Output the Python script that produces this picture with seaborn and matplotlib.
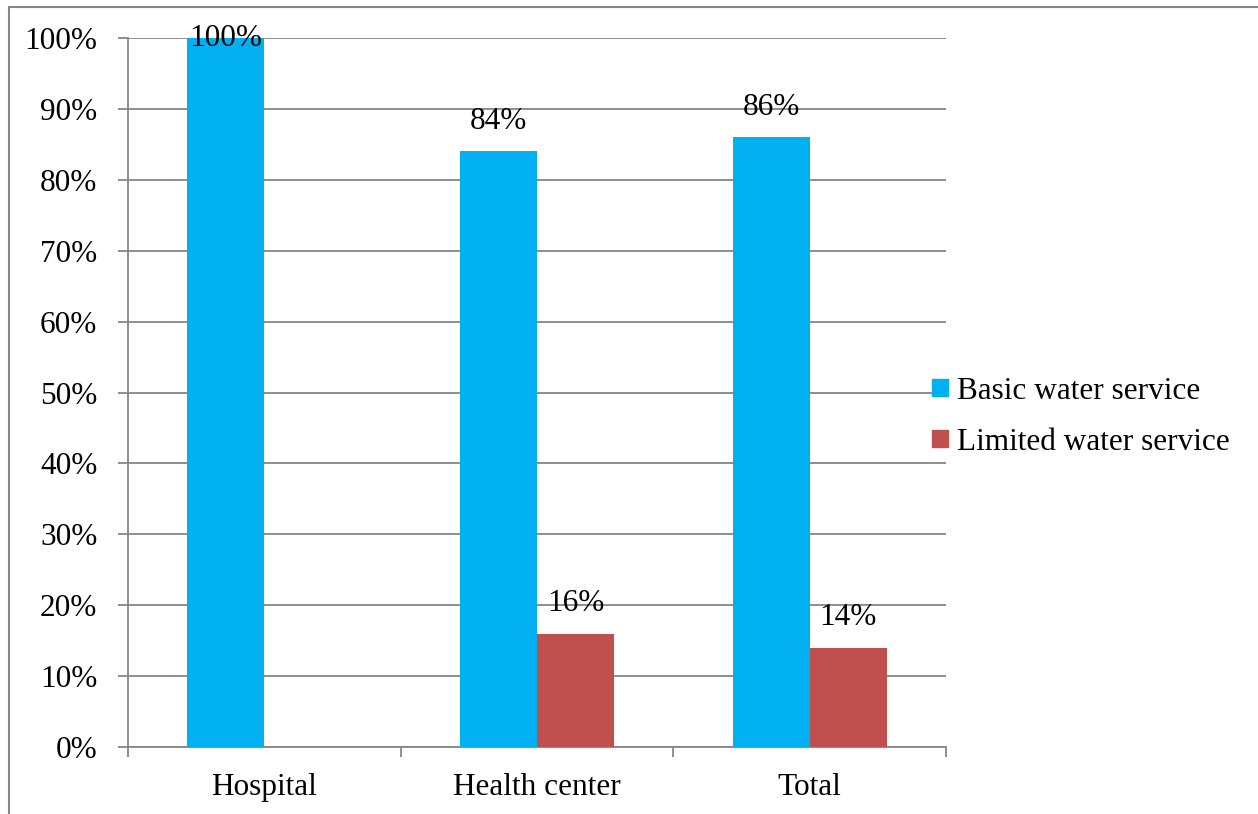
import matplotlib
matplotlib.use("Agg")
import matplotlib.pyplot as plt
from matplotlib.lines import Line2D
from matplotlib.ticker import FixedLocator
import numpy as np
import pandas as pd
import seaborn as sns

categories = ["Hospital", "Health center", "Total"]
basic = [100, 84, 86]
limited = [0, 16, 14]
series = ["Basic water service", "Limited water service"]
colors = ["#00B0F0", "#C0504D"]
yticks = [0, 10, 20, 30, 40, 50, 60, 70, 80, 90, 100]

df = pd.DataFrame({
    "category": categories * 2,
    "value": basic + limited,
    "series": [series[0]] * 3 + [series[1]] * 3,
})

sns.set_theme(style="white")
plt.rcParams["font.family"] = ["Liberation Serif", "DejaVu Serif"]
plt.rcParams["text.color"] = "black"
grey = "#868686"

fig = plt.figure(figsize=(12.58, 8.14), dpi=100)
ax = fig.add_axes([0.1017, 0.0823, 0.6503, 0.871])

sns.barplot(data=df, x="category", y="value", hue="series", order=categories,
            hue_order=series, palette=colors, width=0.565, saturation=1,
            edgecolor="none", linewidth=0, ax=ax, zorder=3)

ax.set_xlim(-0.5, 2.5)
ax.set_ylim(0, 100)
ax.set_yticks(yticks)
ax.set_yticklabels([f"{t}%" for t in yticks], fontsize=22.5, color="black")
ax.tick_params(axis="x", labelsize=22.5, colors="black", length=0, pad=19)
ax.tick_params(axis="y", length=7, width=1.3, color=grey, pad=15, left=True)
ax.xaxis.set_minor_locator(FixedLocator([-0.5, 0.5, 1.5, 2.5]))
ax.tick_params(axis="x", which="minor", length=7, width=1.3, color=grey, bottom=True)
ax.set_xlabel("")
ax.set_ylabel("")
ax.grid(axis="y", color=grey, linewidth=1.3, zorder=0)
ax.set_axisbelow(True)
for side in ["top", "right"]:
    ax.spines[side].set_visible(False)
for side in ["left", "bottom"]:
    ax.spines[side].set_color(grey)
    ax.spines[side].set_linewidth(1.3)

for cont in ax.containers:
    for bar in cont:
        v = bar.get_height()
        if v <= 0:
            continue
        ax.text(bar.get_x() + bar.get_width() / 2, min(v + 4.2, 100.0),
                f"{v:.0f}%", ha="center", va="center", fontsize=22.5,
                color="black", zorder=5, clip_on=False)

handles = [plt.Rectangle((0, 0), 1, 1, color=c) for c in colors]
leg = ax.legend(handles, series, loc="center left", bbox_to_anchor=(0.968, 0.466),
                frameon=False, fontsize=22.5, handlelength=0.5, handleheight=0.5,
                handletextpad=0.3, labelspacing=0.7, borderaxespad=0)
for t in leg.get_texts():
    t.set_color("black")

# outer chart border (left and top edges visible)
fig.add_artist(Line2D([9 / 1258, 9 / 1258], [0, 1 - 7 / 814], color=grey, linewidth=1.5))
fig.add_artist(Line2D([9 / 1258, 1], [1 - 7 / 814, 1 - 7 / 814], color=grey, linewidth=1.5))

fig.savefig("out.png", dpi=100)
